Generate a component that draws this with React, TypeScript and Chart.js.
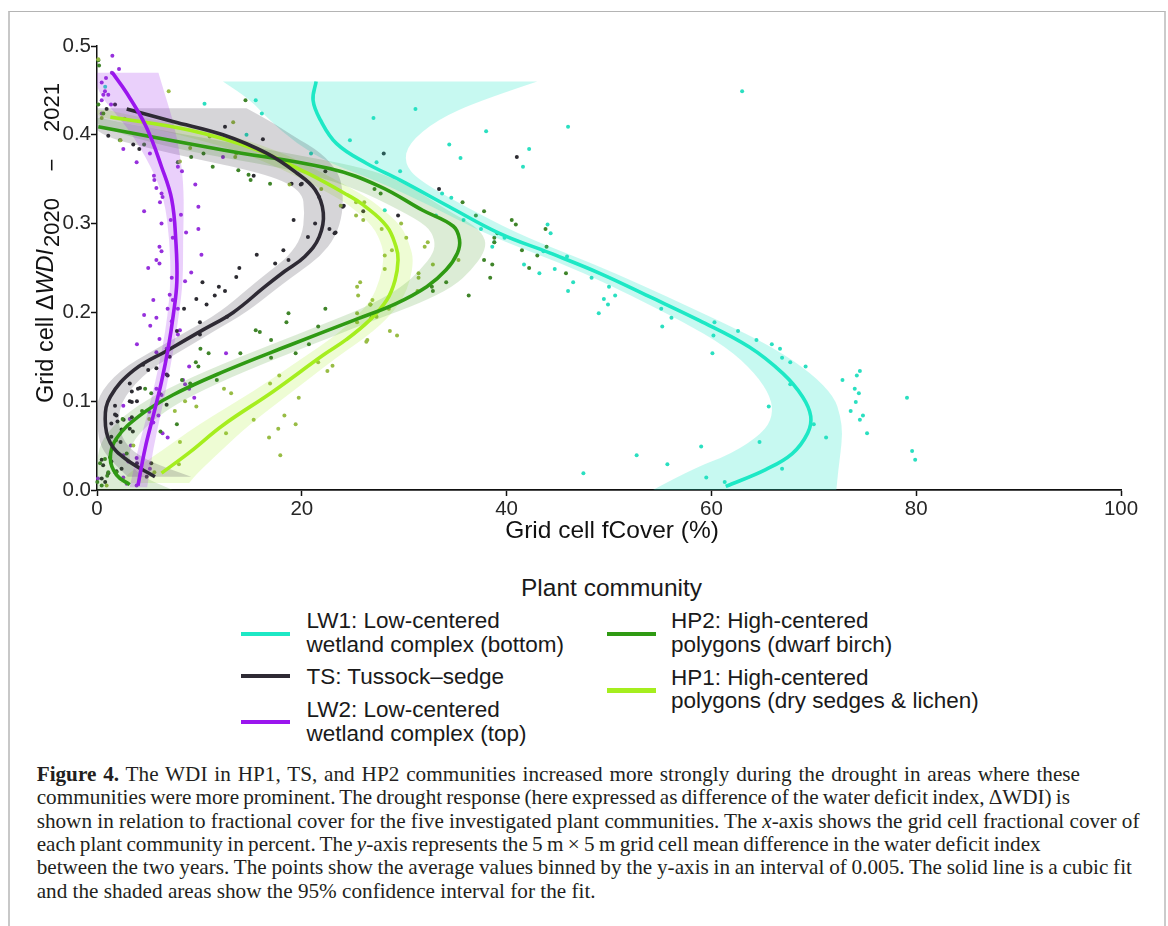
import React, { useEffect, useRef } from "react";
import { Chart, registerables } from "chart.js";
Chart.register(...registerables);

const SANS = '"Liberation Sans", Arial, Helvetica, sans-serif';
const SERIF = '"Liberation Serif", "Times New Roman", serif';

const X_TICKS = [0, 20, 40, 60, 80, 100];
const Y_TICKS = [0, 0.1, 0.2, 0.3, 0.4, 0.5];
const X_TITLE = "Grid cell fCover (%)";
const Y_TITLE_MAIN = "Grid cell \u0394";
const Y_TITLE_ITALIC = "WDI";
const Y_TITLE_SUB = ["2020", "\u2212", "2021"];
const LEGEND_TITLE = "Plant community";

// ---------- LW1: Low-centered wetland complex (bottom) ----------
const LW1_FIT_Y = [0.46, 0.439, 0.417, 0.39, 0.368, 0.349, 0.319, 0.289, 0.267, 0.244, 0.218, 0.191, 0.161, 0.131, 0.105, 0.083, 0.064, 0.041, 0.023, 0.004];
const LW1_FIT_X = [21.4, 21.1, 21.8, 23.4, 26.3, 29.6, 34.4, 39.3, 44.2, 49.1, 53.9, 58.8, 63.7, 67.0, 68.9, 69.7, 69.4, 67.9, 65.3, 61.4];
const LW1_BAND_Y = [0.46, 0.439, 0.417, 0.39, 0.368, 0.349, 0.319, 0.289, 0.267, 0.244, 0.218, 0.191, 0.161, 0.131, 0.105, 0.083, 0.064, 0.041, 0.023, 0.0];
const LW1_BAND_LO = [12.3, 15.0, 16.8, 19.5, 22.7, 27.2, 32.8, 37.8, 42.7, 47.6, 52.3, 57.0, 61.5, 64.3, 65.8, 66.0, 65.0, 62.0, 58.0, 54.3];
const LW1_BAND_HI = [43.0, 37.5, 33.2, 30.4, 30.0, 31.4, 36.0, 41.0, 45.8, 50.6, 55.6, 60.7, 66.0, 69.8, 72.0, 72.6, 72.8, 72.6, 72.4, 72.2];
const LW1_POINTS: [number, number][] = [
  [63.0, 0.449], [31.1, 0.429], [38.0, 0.404], [46.0, 0.409], [34.4, 0.389], [35.5, 0.374], [42.2, 0.384], [41.6, 0.364],
  [29.6, 0.359], [33.7, 0.334], [34.6, 0.329], [33.1, 0.309], [35.8, 0.304], [37.5, 0.294], [38.8, 0.279], [38.6, 0.274],
  [39.8, 0.284], [44.0, 0.299], [44.3, 0.289], [43.6, 0.269], [41.7, 0.254], [43.2, 0.244], [44.7, 0.249], [45.9, 0.263],
  [46.5, 0.234], [46.0, 0.224], [48.3, 0.239], [49.0, 0.199], [49.5, 0.215], [49.9, 0.209], [50.0, 0.229], [50.6, 0.219],
  [55.1, 0.204], [55.2, 0.184], [56.1, 0.194], [60.3, 0.189], [60.2, 0.174], [60.1, 0.154], [62.6, 0.179], [64.4, 0.169],
  [65.9, 0.164], [66.7, 0.159], [66.9, 0.149], [67.7, 0.144], [69.2, 0.139], [67.7, 0.119], [65.6, 0.094], [72.8, 0.124],
  [74.5, 0.134], [74.2, 0.129], [74.0, 0.114], [74.4, 0.109], [74.1, 0.099], [73.6, 0.089], [74.8, 0.084], [74.5, 0.079],
  [75.2, 0.064], [70.0, 0.074], [71.2, 0.059], [64.7, 0.054], [59.0, 0.049], [52.7, 0.039], [55.7, 0.029], [47.5, 0.019],
  [59.5, 0.014], [61.3, 0.009], [66.9, 0.024], [79.1, 0.104], [79.6, 0.044], [79.9, 0.034], [10.5, 0.435], [15.5, 0.439],
  [16.1, 0.424], [14.6, 0.40], [20.9, 0.379], [0.8, 0.454], [27.0, 0.419], [28.1, 0.315], [27.3, 0.369], [24.7, 0.394],
];

// ---------- TS: Tussock-sedge ----------
const TS_FIT_Y = [0.429, 0.415, 0.40, 0.379, 0.357, 0.338, 0.312, 0.285, 0.263, 0.246, 0.229, 0.20, 0.18, 0.158, 0.135, 0.105, 0.08, 0.053, 0.034, 0.015];
const TS_FIT_X = [2.9, 7.4, 12.3, 16.6, 19.5, 21.3, 22.1, 21.7, 20.3, 18.3, 16.4, 13.3, 10.3, 7.0, 3.6, 1.3, 0.8, 1.3, 2.9, 5.66];
const TS_BAND_Y = [0.43, 0.415, 0.40, 0.379, 0.357, 0.338, 0.312, 0.285, 0.263, 0.246, 0.229, 0.20, 0.18, 0.158, 0.135, 0.105, 0.08, 0.053, 0.034, 0.015];
const TS_BAND_LO = [0, 0, 0, 7.0, 16.3, 20.0, 20.3, 20.0, 18.7, 16.8, 15.0, 12.0, 9.0, 5.6, 2.2, 0, 0, 0.2, 1.2, 3.0];
const TS_BAND_HI = [14.6, 17.0, 19.0, 22.0, 23.6, 24.0, 24.0, 23.3, 21.8, 19.8, 17.8, 14.6, 11.6, 8.4, 5.0, 2.6, 2.0, 2.6, 4.6, 9.2];
const TS_POINTS: [number, number][] = [
  [1.76, 0.434], [0.94, 0.429], [3.54, 0.389], [4.13, 0.384], [1.1, 0.399], [12.5, 0.409], [16.2, 0.395], [15.3, 0.354],
  [19.9, 0.344], [21.7, 0.330], [22.3, 0.359], [24.1, 0.320], [19.2, 0.304], [22.7, 0.294], [23.3, 0.290], [21.3, 0.300],
  [20.6, 0.285], [18.2, 0.270], [15.6, 0.265], [13.9, 0.250], [18.7, 0.259], [17.4, 0.255], [13.6, 0.240], [11.9, 0.229],
  [11.5, 0.219], [10.3, 0.234], [10.7, 0.209], [9.7, 0.215], [12.5, 0.224], [12.7, 0.195], [10.05, 0.189], [10.05, 0.175],
  [7.8, 0.179], [8.5, 0.204], [7.1, 0.150], [6.8, 0.13], [6.1, 0.109], [5.0, 0.135], [4.2, 0.115], [3.4, 0.111],
  [3.9, 0.10], [3.2, 0.10], [1.76, 0.095], [1.76, 0.085], [3.4, 0.082], [2.0, 0.077], [2.4, 0.068], [3.5, 0.066],
  [1.4, 0.06], [0.46, 0.034], [1.1, 0.019], [0.8, 0.009], [1.9, 0.021], [3.9, 0.03], [4.85, 0.015], [6.8, 0.096],
  [5.3, 0.03], [6.9, 0.129], [3.2, 0.12], [4.0, 0.114], [5.8, 0.137], [4.5, 0.141], [3.4, 0.099], [1.9, 0.084],
  [2.6, 0.079], [1.4, 0.075], [3.2, 0.069], [2.3, 0.054], [1.4, 0.032], [0.6, 0.028], [2.4, 0.024], [0.46, 0.013],
  [28.0, 0.379], [41.0, 0.375], [33.4, 0.339], [26.0, 0.314], [29.4, 0.309], [24.0, 0.319], [23.2, 0.289], [19.0, 0.345],
  [20.0, 0.345],
];

// ---------- LW2: Low-centered wetland complex (top) ----------
const LW2_FIT_Y = [0.47, 0.447, 0.409, 0.364, 0.327, 0.28, 0.235, 0.197, 0.16, 0.122, 0.084, 0.047, 0.005];
const LW2_FIT_X = [1.5, 2.9, 4.8, 6.3, 7.3, 7.7, 7.8, 7.45, 6.96, 6.3, 5.5, 4.7, 4.0];
const LW2_BAND_Y = [0.47, 0.447, 0.409, 0.364, 0.327, 0.28, 0.235, 0.197, 0.16, 0.122, 0.084, 0.047, 0.003];
const LW2_BAND_LO = [0, 0, 3.0, 5.3, 6.6, 7.1, 7.2, 6.9, 6.4, 5.7, 4.9, 4.0, 3.2];
const LW2_BAND_HI = [6.0, 6.6, 7.6, 8.3, 8.5, 8.4, 8.4, 8.0, 7.5, 6.9, 6.2, 5.5, 4.9];
const LW2_POINTS: [number, number][] = [
  [1.5, 0.489], [2.15, 0.474], [1.45, 0.470], [0.88, 0.464], [0.46, 0.459], [0.78, 0.449], [0.62, 0.445], [1.1, 0.445],
  [0.46, 0.439], [1.37, 0.434], [0.46, 0.424], [2.57, 0.384], [3.87, 0.369], [5.17, 0.379], [5.56, 0.354], [5.6, 0.349],
  [5.8, 0.340], [6.3, 0.334], [6.4, 0.330], [6.15, 0.324], [4.6, 0.314], [6.3, 0.300], [7.2, 0.304], [8.2, 0.310],
  [7.9, 0.364], [7.9, 0.369], [8.3, 0.359], [9.6, 0.344], [9.9, 0.319], [9.9, 0.294], [8.7, 0.290], [7.4, 0.284],
  [6.1, 0.274], [6.3, 0.269], [5.8, 0.259], [6.1, 0.255], [10.2, 0.265], [5.0, 0.250], [12.3, 0.375], [9.2, 0.245],
  [7.3, 0.239], [8.6, 0.235], [7.1, 0.220], [5.5, 0.214], [7.4, 0.214], [6.9, 0.204], [7.9, 0.204], [5.8, 0.194],
  [5.2, 0.185], [7.3, 0.19], [8.1, 0.180], [7.9, 0.175], [3.9, 0.164], [6.1, 0.170], [5.8, 0.155], [6.8, 0.159],
  [12.6, 0.154], [9.0, 0.139], [8.4, 0.124], [8.6, 0.119], [9.3, 0.118], [9.0, 0.114], [9.5, 0.104], [5.8, 0.114],
  [6.3, 0.107], [2.57, 0.095], [5.1, 0.088], [6.0, 0.084], [3.2, 0.080], [5.5, 0.076], [6.4, 0.064], [6.9, 0.059],
  [3.3, 0.050], [2.57, 0.039], [3.87, 0.036], [3.06, 0.032], [5.17, 0.024], [1.76, 0.020], [2.57, 0.014], [0.1, 0.013],
  [2.9, 0.007], [3.87, 0.005], [4.6, 0.197],
];

// ---------- HP2: High-centered polygons (dwarf birch) ----------
const HP2_FIT_Y = [0.409, 0.383, 0.362, 0.342, 0.315, 0.297, 0.282, 0.267, 0.248, 0.229, 0.21, 0.193, 0.163, 0.133, 0.107, 0.084, 0.058, 0.036, 0.017, 0.006];
const HP2_FIT_X = [0.13, 12.3, 22.7, 27.6, 31.8, 34.8, 35.4, 35.2, 34.1, 32.2, 29.2, 25.5, 18.8, 12.3, 7.4, 4.2, 1.9, 1.3, 1.9, 3.2];
const HP2_BAND_Y = [0.419, 0.409, 0.383, 0.362, 0.342, 0.315, 0.297, 0.282, 0.267, 0.248, 0.229, 0.21, 0.193, 0.163, 0.133, 0.107, 0.084, 0.058, 0.036, 0.017, 0.0];
const HP2_BAND_LO = [0, 0, 7.8, 18.7, 24.8, 29.6, 32.3, 33.0, 32.9, 31.6, 29.8, 27.0, 23.5, 16.8, 10.4, 5.6, 2.6, 0.5, 0, 0, 0];
const HP2_BAND_HI = [0.3, 4.5, 16.8, 26.7, 30.6, 34.2, 37.0, 38.0, 37.8, 36.6, 34.8, 31.5, 27.5, 20.8, 14.3, 9.3, 6.0, 3.6, 3.0, 4.0, 7.4];
const HP2_POINTS: [number, number][] = [
  [0.13, 0.484], [0.2, 0.478], [14.5, 0.439], [0.13, 0.434], [0.62, 0.424], [2.24, 0.394], [9.2, 0.375], [10.4, 0.379],
  [11.3, 0.364], [13.8, 0.360], [14.8, 0.355], [15.0, 0.349], [16.9, 0.345], [7.9, 0.369], [4.6, 0.389], [27.7, 0.334],
  [27.1, 0.339], [35.7, 0.324], [37.8, 0.314], [37.0, 0.309], [40.5, 0.304], [40.9, 0.299], [38.8, 0.284], [38.8, 0.279],
  [41.5, 0.270], [37.8, 0.259], [38.6, 0.254], [43.0, 0.264], [42.2, 0.250], [43.9, 0.274], [38.4, 0.239], [34.1, 0.234],
  [32.7, 0.229], [32.8, 0.224], [36.3, 0.219], [26.7, 0.209], [26.8, 0.194], [39.1, 0.289], [43.8, 0.294], [45.8, 0.244],
  [22.3, 0.204], [18.7, 0.199], [15.5, 0.180], [17.0, 0.169], [17.0, 0.149], [21.6, 0.184], [20.7, 0.164], [19.4, 0.154],
  [18.5, 0.189], [11.7, 0.124], [10.9, 0.154], [10.1, 0.159], [9.65, 0.144], [9.9, 0.139], [9.1, 0.120], [8.3, 0.124],
  [4.7, 0.114], [5.3, 0.109], [4.4, 0.089], [2.5, 0.080], [7.8, 0.074], [6.2, 0.066], [1.85, 0.056], [1.27, 0.037],
  [0.78, 0.035], [0.3, 0.030], [1.1, 0.020], [1.0, 0.016], [1.9, 0.020], [2.9, 0.041], [0.03, 0.009], [0.46, 0.005],
  [15.9, 0.178], [14.0, 0.154],
];

// ---------- HP1: High-centered polygons (dry sedges & lichen) ----------
const HP1_FIT_Y = [0.42, 0.405, 0.383, 0.357, 0.332, 0.321, 0.297, 0.274, 0.259, 0.236, 0.214, 0.191, 0.169, 0.152, 0.111, 0.073, 0.043, 0.019];
const HP1_FIT_X = [1.3, 9.1, 15.6, 20.5, 24.5, 26.0, 28.3, 29.2, 29.4, 29.1, 28.3, 26.6, 24.3, 22.1, 17.2, 12.3, 9.1, 6.3];
const HP1_BAND_Y = [0.428, 0.42, 0.405, 0.383, 0.357, 0.332, 0.321, 0.297, 0.274, 0.259, 0.236, 0.214, 0.191, 0.169, 0.152, 0.111, 0.073, 0.043, 0.019, 0.008];
const HP1_BAND_LO = [0, 0, 6.5, 13.6, 18.9, 23.0, 24.6, 27.0, 27.9, 28.0, 27.6, 26.8, 25.0, 22.7, 20.5, 15.3, 9.8, 6.2, 3.0, 2.2];
const HP1_BAND_HI = [1.0, 4.0, 11.5, 17.6, 22.1, 26.0, 27.4, 29.8, 30.6, 30.9, 30.6, 29.8, 28.2, 25.9, 23.7, 19.1, 14.8, 12.0, 9.8, 9.0];
const HP1_POINTS: [number, number][] = [
  [0.13, 0.485], [7.0, 0.449], [2.7, 0.418], [13.3, 0.414], [11.0, 0.398], [2.3, 0.394], [9.1, 0.385], [13.6, 0.379],
  [13.5, 0.375], [8.1, 0.370], [18.8, 0.344], [21.9, 0.339], [23.8, 0.320], [0.46, 0.419], [25.3, 0.324], [26.1, 0.324],
  [25.3, 0.309], [26.0, 0.304], [27.8, 0.294], [29.7, 0.300], [30.2, 0.284], [32.3, 0.279], [32.0, 0.274], [28.8, 0.270],
  [28.1, 0.264], [28.1, 0.249], [31.4, 0.244], [31.4, 0.239], [35.3, 0.259], [32.8, 0.254], [25.7, 0.234], [25.4, 0.229],
  [25.5, 0.219], [26.9, 0.214], [26.7, 0.209], [28.5, 0.204], [27.3, 0.195], [25.4, 0.199], [25.4, 0.189], [28.6, 0.179],
  [29.3, 0.174], [26.4, 0.169], [31.3, 0.224], [23.0, 0.140], [22.5, 0.134], [21.6, 0.144], [19.7, 0.104], [18.3, 0.084],
  [19.4, 0.074], [17.7, 0.069], [16.8, 0.059], [17.9, 0.039], [15.3, 0.079], [17.8, 0.129], [16.9, 0.120], [13.1, 0.109],
  [12.4, 0.114], [12.6, 0.064], [9.7, 0.094], [8.6, 0.100], [7.6, 0.089], [8.0, 0.029], [5.1, 0.080], [3.55, 0.050],
  [0.94, 0.005], [5.6, 0.020], [8.1, 0.054], [26.3, 0.167],
];

type Series = {
  code: string; lineColor: string; pointColor: string; bandColor: string; lineOrder: number;
  fitX: number[]; fitY: number[]; bandY: number[]; bandLo: number[]; bandHi: number[]; pts: [number, number][];
};

// drawing order of bands: first drawn at the bottom
const SERIES: Series[] = [
  { code: "HP1", lineColor: "#a5ee1e", pointColor: "#98bc44", bandColor: "rgba(170,238,40,0.20)", lineOrder: 5,
    fitX: HP1_FIT_X, fitY: HP1_FIT_Y, bandY: HP1_BAND_Y, bandLo: HP1_BAND_LO, bandHi: HP1_BAND_HI, pts: HP1_POINTS },
  { code: "HP2", lineColor: "#2f9a13", pointColor: "#3f8429", bandColor: "rgba(60,150,30,0.18)", lineOrder: 4,
    fitX: HP2_FIT_X, fitY: HP2_FIT_Y, bandY: HP2_BAND_Y, bandLo: HP2_BAND_LO, bandHi: HP2_BAND_HI, pts: HP2_POINTS },
  { code: "LW1", lineColor: "#1de8c5", pointColor: "#2adfc0", bandColor: "rgba(30,230,200,0.25)", lineOrder: 3,
    fitX: LW1_FIT_X, fitY: LW1_FIT_Y, bandY: LW1_BAND_Y, bandLo: LW1_BAND_LO, bandHi: LW1_BAND_HI, pts: LW1_POINTS },
  { code: "TS", lineColor: "#2e2a34", pointColor: "#2c2b31", bandColor: "rgba(50,45,60,0.2)", lineOrder: 2,
    fitX: TS_FIT_X, fitY: TS_FIT_Y, bandY: TS_BAND_Y, bandLo: TS_BAND_LO, bandHi: TS_BAND_HI, pts: TS_POINTS },
  { code: "LW2", lineColor: "#9a16ee", pointColor: "#9630dc", bandColor: "rgba(160,40,235,0.22)", lineOrder: 1,
    fitX: LW2_FIT_X, fitY: LW2_FIT_Y, bandY: LW2_BAND_Y, bandLo: LW2_BAND_LO, bandHi: LW2_BAND_HI, pts: LW2_POINTS },
];

const LEGEND_COL1 = [
  { lines: ["LW1: Low-centered", "wetland complex (bottom)"], color: "#1de8c5", textTop: 609, keyY: 634 },
  { lines: ["TS: Tussock\u2013sedge"], color: "#2e2a34", textTop: 665, keyY: 676 },
  { lines: ["LW2: Low-centered", "wetland complex (top)"], color: "#9a16ee", textTop: 698, keyY: 722 },
];
const LEGEND_COL2 = [
  { lines: ["HP2: High-centered", "polygons (dwarf birch)"], color: "#2f9a13", textTop: 609, keyY: 634 },
  { lines: ["HP1: High-centered", "polygons (dry sedges & lichen)"], color: "#a5ee1e", textTop: 665.5, keyY: 690.5 },
];

const CAPTION_LINES: { parts: (string | { i: string } | { b: string })[]; ws: number }[] = [
  { parts: [{ b: "Figure 4." }, " The WDI in HP1, TS, and HP2 communities increased more strongly during the drought in areas where these"], ws: 1.6 },
  { parts: ["communities were more prominent. The drought response (here expressed as difference of the water deficit index, \u0394WDI) is"], ws: -1.2 },
  { parts: ["shown in relation to fractional cover for the five investigated plant communities. The ", { i: "x" }, "-axis shows the grid cell fractional cover of"], ws: 0 },
  { parts: ["each plant community in percent. The ", { i: "y" }, "-axis represents the 5 m \u00d7 5 m grid cell mean difference in the water deficit index"], ws: -1.0 },
  { parts: ["between the two years. The points show the average values binned by the y-axis in an interval of 0.005. The solid line is a cubic fit"], ws: -0.5 },
  { parts: ["and the shaded areas show the 95% confidence interval for the fit."], ws: 0 },
];

function traceSmooth(ctx: CanvasRenderingContext2D, pts: number[][], move: boolean) {
  if (move) ctx.moveTo(pts[0][0], pts[0][1]);
  else ctx.lineTo(pts[0][0], pts[0][1]);
  for (let i = 1; i < pts.length - 1; i++) {
    const mx = (pts[i][0] + pts[i + 1][0]) / 2;
    const my = (pts[i][1] + pts[i + 1][1]) / 2;
    ctx.quadraticCurveTo(pts[i][0], pts[i][1], mx, my);
  }
  ctx.lineTo(pts[pts.length - 1][0], pts[pts.length - 1][1]);
}

let bandsDrawn = false;
function drawBands(chart: any) {
  const { ctx, chartArea: a, scales } = chart;
  const xs = scales.x, ys = scales.y;
  ctx.save();
  ctx.beginPath();
  ctx.rect(a.left, a.top, a.right - a.left, a.bottom - a.top);
  ctx.clip();
  for (const s of SERIES) {
    const upper = s.bandY.map((v, i) => [xs.getPixelForValue(s.bandHi[i]), ys.getPixelForValue(v)]);
    const lower = s.bandY.map((v, i) => [xs.getPixelForValue(s.bandLo[i]), ys.getPixelForValue(v)]).reverse();
    ctx.beginPath();
    traceSmooth(ctx, upper, true);
    traceSmooth(ctx, lower, false);
    ctx.closePath();
    ctx.fillStyle = s.bandColor;
    ctx.fill();
  }
  ctx.restore();
}

const bandPlugin = {
  id: "ciBands",
  beforeDatasetsDraw() { bandsDrawn = false; },
  beforeDatasetDraw(chart: any, args: any) {
    const ds = chart.data.datasets[args.index];
    if (ds.isFit && !bandsDrawn) { drawBands(chart); bandsDrawn = true; }
  },
  afterDatasetsDraw(chart: any) { if (!bandsDrawn) { drawBands(chart); bandsDrawn = true; } },
};

const titlePlugin = {
  id: "axisTitles",
  afterDraw(chart: any) {
    const { ctx, chartArea: a } = chart;
    ctx.save();
    ctx.fillStyle = "#111";
    ctx.textBaseline = "alphabetic";
    ctx.textAlign = "center";
    ctx.font = `24.5px ${SANS}`;
    ctx.fillText(X_TITLE, (a.left + a.right) / 2 + 3, 537.5);
    // rotated y title
    ctx.translate(53, 403);
    ctx.rotate(-Math.PI / 2);
    ctx.textAlign = "left";
    ctx.font = `23.5px ${SANS}`;
    ctx.fillText(Y_TITLE_MAIN, 0, 0);
    let x = ctx.measureText(Y_TITLE_MAIN).width;
    ctx.font = `italic 23.5px ${SANS}`;
    ctx.fillText(Y_TITLE_ITALIC, x, 0);
    x += ctx.measureText(Y_TITLE_ITALIC).width + 2;
    ctx.font = `22px ${SANS}`;
    const subY = 6;
    ctx.fillText(Y_TITLE_SUB[0], x, subY);
    const w2 = ctx.measureText(Y_TITLE_SUB[2]).width;
    const endX = 320;
    ctx.fillText(Y_TITLE_SUB[2], endX - w2, subY);
    ctx.textAlign = "center";
    const w0 = ctx.measureText(Y_TITLE_SUB[0]).width;
    ctx.fillText(Y_TITLE_SUB[1], (x + w0 + endX - w2) / 2, subY);
    ctx.restore();
  },
};

export default function App() {
  const ref = useRef<HTMLCanvasElement>(null);
  useEffect(() => {
    const canvas = ref.current;
    if (!canvas) return;
    const datasets: any[] = [];
    SERIES.forEach((s, i) => {
      datasets.push({
        type: "scatter",
        label: s.code + " points",
        data: s.pts.map(([x, y]) => ({ x, y })),
        pointRadius: 2,
        pointHoverRadius: 2,
        pointBorderWidth: 0,
        pointBackgroundColor: s.pointColor,
        showLine: false,
        clip: false,
        order: 100 + i,
      });
    });
    SERIES.forEach((s) => {
      datasets.push({
        type: "scatter",
        label: s.code,
        isFit: true,
        data: s.fitX.map((x, j) => ({ x, y: s.fitY[j] })),
        showLine: true,
        borderColor: s.lineColor,
        borderWidth: 3.6,
        borderCapStyle: "butt",
        pointRadius: 0,
        pointHoverRadius: 0,
        tension: 0.4,
        fill: false,
        order: s.lineOrder,
      });
    });
    const tickFont = { family: SANS, size: 20.5 };
    const chart = new Chart(canvas, {
      type: "scatter",
      data: { datasets },
      options: {
        animation: false,
        responsive: false,
        events: [],
        layout: { padding: { top: 46, right: 47, bottom: 0, left: 0 } },
        plugins: { legend: { display: false }, tooltip: { enabled: false }, title: { display: false } },
        scales: {
          x: {
            type: "linear",
            min: 0,
            max: 100,
            afterBuildTicks: (sc: any) => { sc.ticks = X_TICKS.map((v) => ({ value: v })); },
            afterFit: (sc: any) => { sc.height = 70; },
            ticks: { font: tickFont, color: "#262626", padding: 1, maxRotation: 0, autoSkip: false },
            grid: { drawOnChartArea: false, drawTicks: true, tickLength: 6, tickColor: "#111", tickWidth: 1.5 },
            border: { display: true, color: "#111", width: 1.8 },
          },
          y: {
            type: "linear",
            min: 0,
            max: 0.5,
            afterBuildTicks: (sc: any) => { sc.ticks = Y_TICKS.map((v) => ({ value: v })); },
            afterFit: (sc: any) => { sc.width = 97; },
            ticks: {
              font: tickFont, color: "#262626", padding: 0, autoSkip: false,
              callback: (v: any) => Number(v).toFixed(1),
            },
            grid: { drawOnChartArea: false, drawTicks: true, tickLength: 6, tickColor: "#111", tickWidth: 1.5 },
            border: { display: true, color: "#111", width: 1.5 },
          },
        },
      } as any,
      plugins: [bandPlugin, titlePlugin],
    });
    return () => chart.destroy();
  }, []);

  const legendText = { position: "absolute" as const, font: `22.5px ${SANS}`, lineHeight: "23.7px", color: "#1a1a1a", whiteSpace: "nowrap" as const };
  const renderCol = (items: typeof LEGEND_COL1, keyLeft: number, textLeft: number) =>
    items.map((it, i) => (
      <React.Fragment key={keyLeft + "-" + i}>
        <div style={{ position: "absolute", left: keyLeft, top: it.keyY - 2.25, width: 49.5, height: 4.5, background: it.color }} />
        <div style={{ ...legendText, left: textLeft, top: it.textTop }}>
          {it.lines.map((l, j) => (<div key={j}>{l}</div>))}
        </div>
      </React.Fragment>
    ));

  return (
    <div style={{ position: "absolute", left: 0, top: 0, width: 1168, height: 926, background: "#fff", overflow: "hidden" }}>
      <div style={{ position: "absolute", left: 8, top: 11, width: 1154, height: 930, borderLeft: "2px solid #c8c8c8", borderTop: "1px solid #b4b4b4", borderRight: "2px solid #cbcbcb" }} />
      <canvas ref={ref} width={1168} height={560} style={{ position: "absolute", left: 0, top: 0, width: 1168, height: 560 }} />
      <div style={{ position: "absolute", left: 521, top: 574, font: `24.5px ${SANS}`, lineHeight: "27px", color: "#1a1a1a", whiteSpace: "nowrap" }}>{LEGEND_TITLE}</div>
      {renderCol(LEGEND_COL1, 240.5, 306.4)}
      {renderCol(LEGEND_COL2, 606.8, 671)}
      <div style={{ position: "absolute", left: 36.7, top: 762.8, font: `21.2px ${SERIF}`, lineHeight: "23.4px", color: "#231f20", whiteSpace: "nowrap" }}>
        {CAPTION_LINES.map((ln, k) => (
          <div key={k} style={{ wordSpacing: ln.ws + "px" }}>
            {ln.parts.map((p, j) =>
              typeof p === "string" ? <React.Fragment key={j}>{p}</React.Fragment>
                : "i" in p ? <i key={j}>{p.i}</i> : <b key={j}>{p.b}</b>
            )}
          </div>
        ))}
      </div>
    </div>
  );
}
